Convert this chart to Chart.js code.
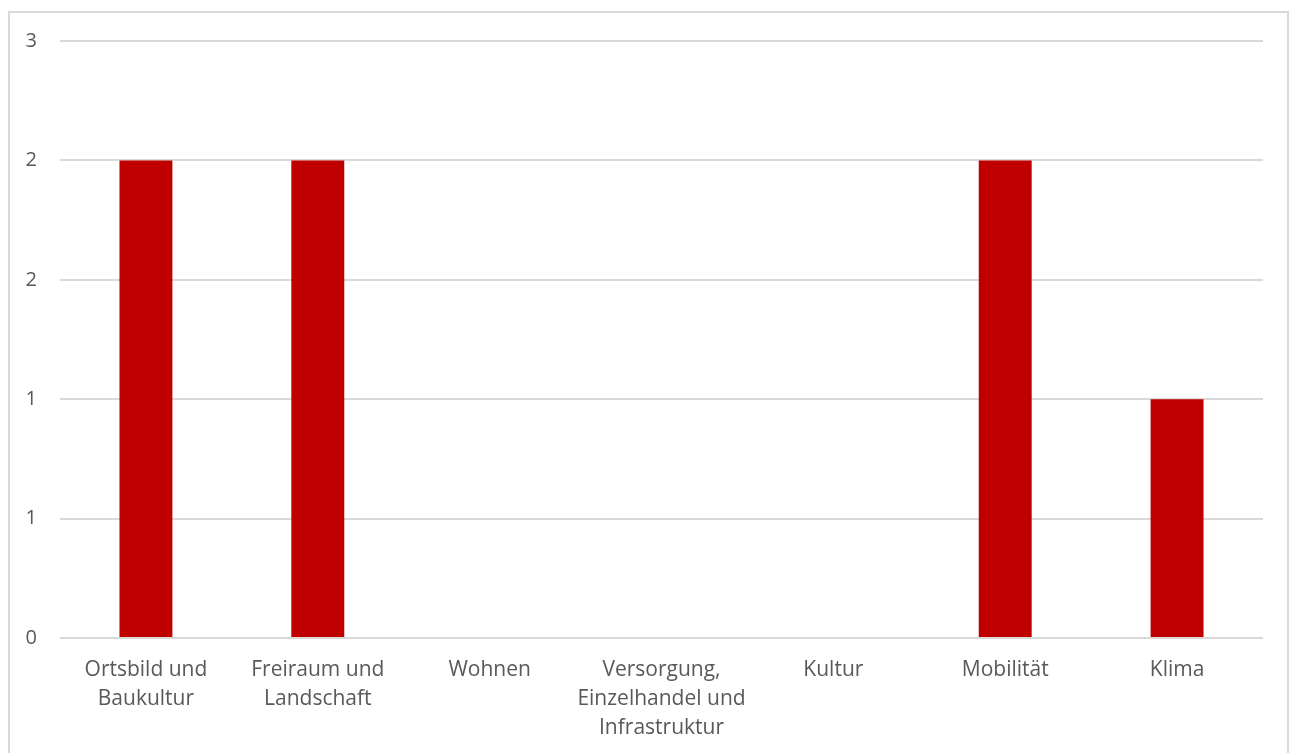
<!DOCTYPE html>
<html>
<head>
<meta charset="utf-8">
<script src="https://cdn.jsdelivr.net/npm/chart.js@4/dist/chart.umd.min.js"></script>
<style>
  body { margin: 0; background: #fff; }
  #box {
    position: absolute; left: 8px; top: 11px;
    width: 1277px; height: 750px;
    border: 2px solid #d9d9d9; border-bottom: none;
  }
  #wrap { position: relative; width: 1277px; height: 742px; }
</style>
</head>
<body>
<div id="box"><div id="wrap"><canvas id="chart"></canvas></div></div>
<script>
const categories = [
  ["Ortsbild und", "Baukultur"],
  ["Freiraum und", "Landschaft"],
  "Wohnen",
  ["Versorgung,", "Einzelhandel und", "Infrastruktur"],
  "Kultur",
  "Mobilität",
  "Klima"
];
const values = [2.4, 2.4, 0, 0, 0, 2.4, 1.2];
const yMax = 3;
const yStep = 0.6;

const textColor = "#595959";
const gridColor = "#d9d9d9";

new Chart(document.getElementById("chart"), {
  type: "bar",
  data: {
    labels: categories,
    datasets: [
      {
        data: values,
        backgroundColor: "#c00000",
        barPercentage: 0.308,
        categoryPercentage: 1,
      },
    ],
  },
  options: {
    responsive: true,
    maintainAspectRatio: false,
    animation: false,
    layout: { padding: { top: 28, right: 24, left: 0, bottom: 0 } },
    plugins: {
      legend: { display: false },
      tooltip: { enabled: false },
    },
    scales: {
      x: {
        grid: { display: false },
        border: { display: false },
        ticks: {
          color: textColor,
          font: { family: "Open Sans", size: 21, lineHeight: 1.38 },
          padding: 10,
          maxRotation: 0,
          autoSkip: false,
        },
        afterFit: (scale) => {
          scale.height = 117;
          scale.paddingLeft = 0;
          scale.paddingRight = 0;
        },
      },
      y: {
        min: 0,
        max: yMax,
        grid: { color: gridColor, lineWidth: 2, drawTicks: false },
        border: { display: false },
        ticks: {
          stepSize: yStep,
          color: textColor,
          font: { family: "Open Sans", size: 20 },
          padding: 23,
          callback: (v) => Math.round(v),
        },
        afterFit: (scale) => {
          scale.width = 50;
          scale.paddingTop = 0;
          scale.paddingBottom = 0;
        },
      },
    },
  },
});
</script>
</body>
</html>
